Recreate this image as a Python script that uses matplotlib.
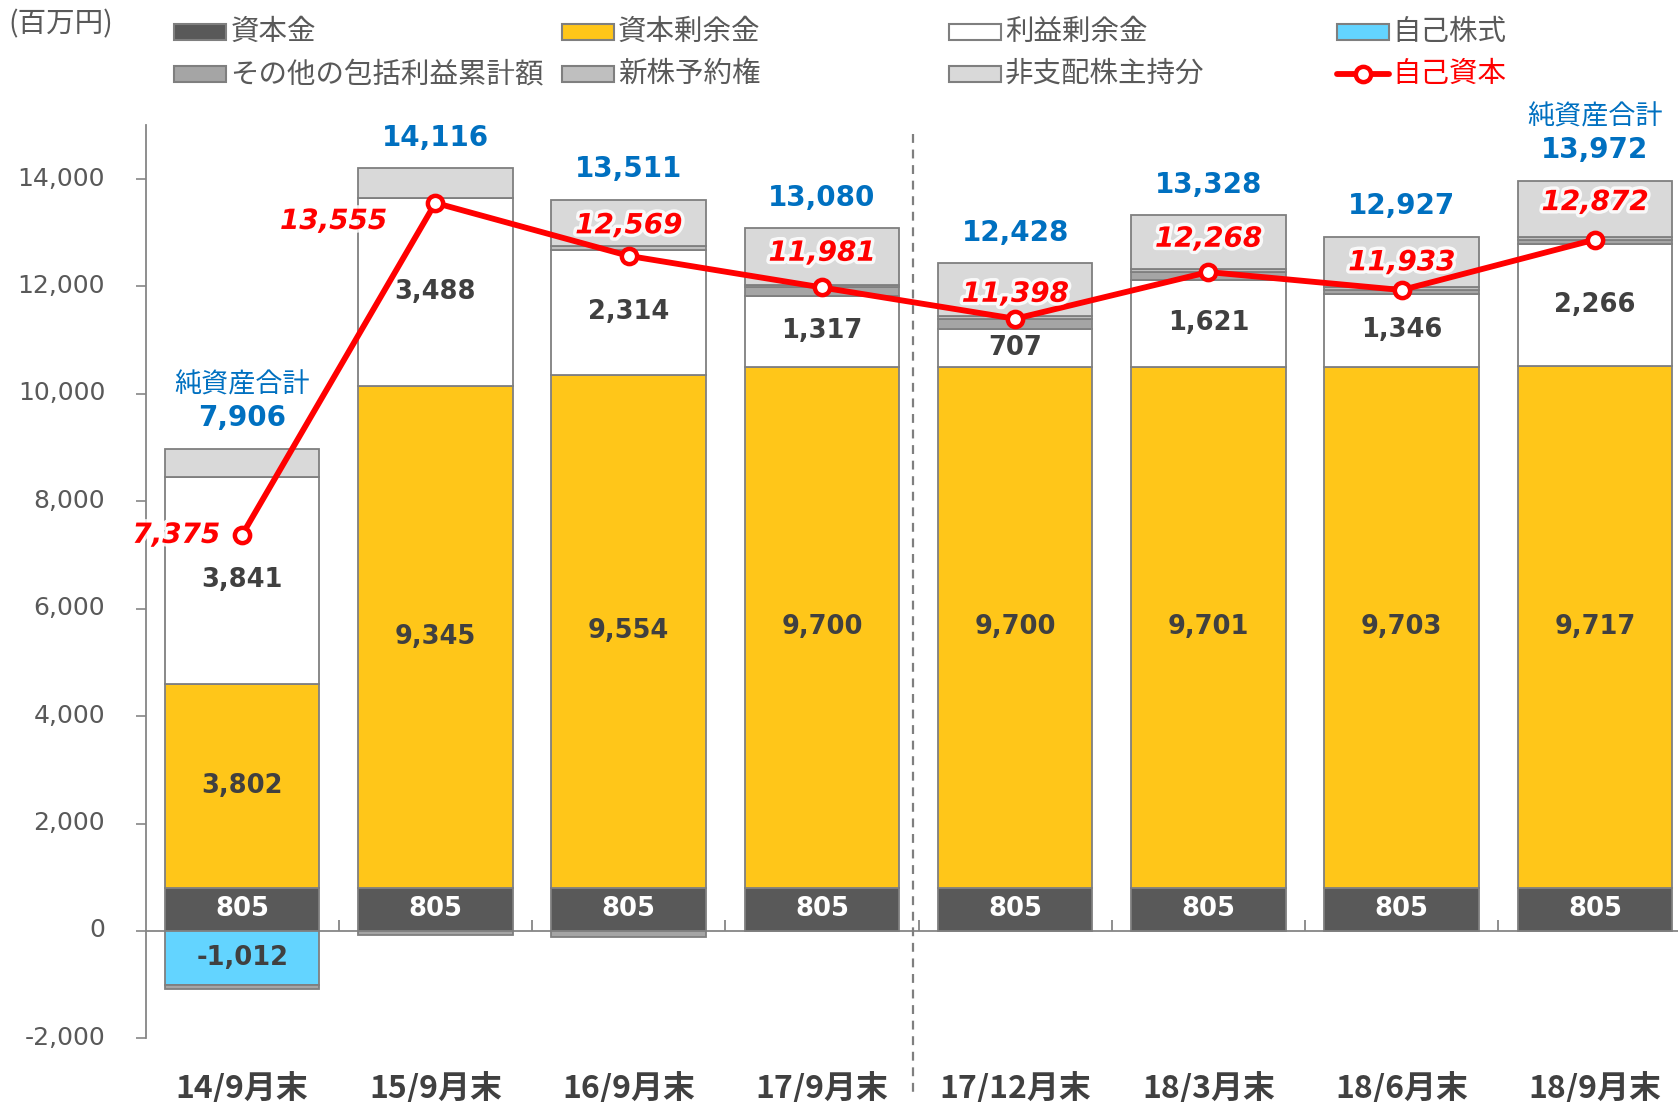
import matplotlib
matplotlib.use('Agg')
import matplotlib.pyplot as plt
from matplotlib.patches import Rectangle
from matplotlib.lines import Line2D
import matplotlib.patheffects as pe
import matplotlib.transforms as mtransforms
from matplotlib.ticker import FuncFormatter

# ---------------- data ----------------
categories = ['14/9月末', '15/9月末', '16/9月末', '17/9月末',
              '17/12月末', '18/3月末', '18/6月末', '18/9月末']
capital = [805, 805, 805, 805, 805, 805, 805, 805]
capital_surplus = [3802, 9345, 9554, 9700, 9700, 9701, 9703, 9717]
retained = [3841, 3488, 2314, 1317, 707, 1621, 1346, 2266]
treasury = [-1012, 0, 0, 0, 0, 0, 0, 0]
oci = [-61, -83, -104, 159, 186, 141, 79, 84]
subscription = [10, 12, 85, 50, 50, 50, 50, 50]
noncontrolling = [521, 549, 857, 1049, 980, 1010, 944, 1050]
equity = [7375, 13555, 12569, 11981, 11398, 12268, 11933, 12872]
net_assets = [7906, 14116, 13511, 13080, 12428, 13328, 12927, 13972]

layer_names = ['資本金', '資本剰余金', '利益剰余金', '自己株式',
               'その他の包括利益累計額', '新株予約権', '非支配株主持分']
layer_values = [capital, capital_surplus, retained, treasury, oci,
                subscription, noncontrolling]
layer_colors = ['#595959', '#FFC619', '#FFFFFF', '#63D4FF',
                '#A5A5A5', '#BFBFBF', '#D9D9D9']
labelled_layers = {0: '#FFFFFF', 1: '#404040', 2: '#404040', 3: '#404040'}

W, H = 1678, 1102
plt.rcParams['font.family'] = ['DejaVu Sans', 'Noto Sans CJK JP']
fig = plt.figure(figsize=(W / 100, H / 100), dpi=100)
AX_TOP, AX_BOT = 125.3, 1038.4
ax = fig.add_axes([145.5 / W, 1 - AX_BOT / H, 1 - 145.5 / W,
                   (AX_BOT - AX_TOP) / H])

x = list(range(len(categories)))
EDGE = '#7F7F7F'
pos_bottom = [0.0] * len(x)
neg_bottom = [0.0] * len(x)
for li, (vals, col) in enumerate(zip(layer_values, layer_colors)):
    for i, v in enumerate(vals):
        if v == 0:
            continue
        if v > 0:
            b = pos_bottom[i]
            pos_bottom[i] += v
        else:
            b = neg_bottom[i]
            neg_bottom[i] += v
        ax.bar(i, v, bottom=b, width=0.8, color=col, edgecolor=EDGE,
               linewidth=1.3, zorder=2)
        if li in labelled_layers:
            ax.text(i, b + v / 2, f'{v:,}', ha='center', va='center',
                    fontsize=18.5, fontweight='bold', color=labelled_layers[li],
                    zorder=5)

# net assets totals (blue)
for i, tot in enumerate(net_assets):
    ax.annotate(f'{tot:,}', xy=(i, pos_bottom[i]), xytext=(0, 22),
                textcoords='offset points', ha='center', va='center',
                fontsize=20, fontweight='bold', color='#0070C0', zorder=6)
for i in (0, len(x) - 1):
    ax.annotate('純資産合計', xy=(i, pos_bottom[i]), xytext=(0, 46),
                textcoords='offset points', ha='center', va='center',
                fontsize=19.5, color='#0070C0', family=['Noto Sans CJK JP'],
                zorder=6)

# equity line
ax.plot(x, equity, color='#FF0000', linewidth=4.2, marker='o', markersize=11,
        markerfacecolor='white', markeredgecolor='#FF0000',
        markeredgewidth=3.2, zorder=7, solid_capstyle='round')
halo = [pe.withStroke(linewidth=5, foreground='white', alpha=0.85)]
label_offsets = [(-16, 0), (-35, -13), (0, 22), (0, 25), (0, 18),
                 (0, 24), (0, 20), (0, 27)]
for i, v in enumerate(equity):
    off = label_offsets[i]
    ha = 'right' if off[0] < 0 else 'center'
    ax.annotate(f'{v:,}', xy=(i, v), xytext=off, textcoords='offset points',
                ha=ha, va='center', fontsize=20, fontweight='bold',
                fontstyle='italic', color='#FF0000', zorder=8,
                path_effects=halo)

# axes styling
ax.set_xlim(-0.5, 7.43)
ax.set_ylim(-2000, 15000)
ax.set_yticks(range(-2000, 14001, 2000))
ax.yaxis.set_major_formatter(FuncFormatter(lambda v, p: f'{int(v):,}'))
ax.tick_params(axis='y', direction='out', length=7, width=1.2, color='#868686',
               pad=22, labelsize=18, labelcolor='#595959')
shift = mtransforms.ScaledTranslation(0, 3 / 100, fig.dpi_scale_trans)
for lab in ax.get_yticklabels():
    lab.set_transform(lab.get_transform() + shift)
ax.set_xticks(x)
ax.set_xticklabels(categories, family=['Noto Sans CJK JP'], fontweight='bold',
                   fontsize=23, color='#404040')
ax.tick_params(axis='x', length=0, pad=24)
for s in ('top', 'right', 'bottom'):
    ax.spines[s].set_visible(False)
ax.spines['left'].set_color('#868686')
ax.spines['left'].set_linewidth(1.3)
ax.axhline(0, color='#868686', linewidth=1.3, zorder=1)
ax.vlines([k + 0.5 for k in range(len(x))], 0, 210, color='#868686',
          linewidth=1.3, zorder=1)

# dashed separator
xs = ax.transData.transform((3.47, 0))[0] / W
fig.add_artist(Line2D([xs, xs], [1 - 134 / H, 1 - 1098 / H],
                      transform=fig.transFigure, color='#7F7F7F',
                      linewidth=1.6, linestyle=(0, (4, 3))))

# unit label
fig.text(8.6 / W, 1 - 24 / H, '(百万円)', fontsize=20.5, color='#595959',
         ha='left', va='center', family=['Noto Sans CJK JP'])

# legend (manual, 4 columns x 2 rows)
col_x = [174.4, 561.9, 949.3, 1336.7]
row_y = [32, 74]
legend_order = [0, 1, 2, 3, 4, 5, 6]
pw, ph = 52, 16
for k, li in enumerate(legend_order):
    r, c = divmod(k, 4)
    x0, yc = col_x[c], row_y[r]
    fig.add_artist(Rectangle((x0 / W, 1 - (yc + ph / 2) / H), pw / W, ph / H,
                             transform=fig.transFigure,
                             facecolor=layer_colors[li], edgecolor=EDGE,
                             linewidth=1.5))
    fig.text((x0 + pw + 4) / W, 1 - yc / H, layer_names[li], fontsize=20.5,
             color='#595959', ha='left', va='center',
             family=['Noto Sans CJK JP'])
x0, yc = col_x[3], row_y[1]
fig.add_artist(Line2D([x0 / W, (x0 + pw) / W], [1 - yc / H, 1 - yc / H],
                      transform=fig.transFigure, color='#FF0000', linewidth=4.2,
                      solid_capstyle='round'))
fig.add_artist(Line2D([(x0 + pw / 2) / W], [1 - yc / H],
                      transform=fig.transFigure, color='#FF0000',
                      marker='o', markersize=11, markerfacecolor='white',
                      markeredgewidth=3.2, linestyle='none'))
fig.text((x0 + pw + 4) / W, 1 - yc / H, '自己資本', fontsize=20.5,
         color='#FF0000', ha='left', va='center', family=['Noto Sans CJK JP'])

fig.savefig('out.png', dpi=100)
